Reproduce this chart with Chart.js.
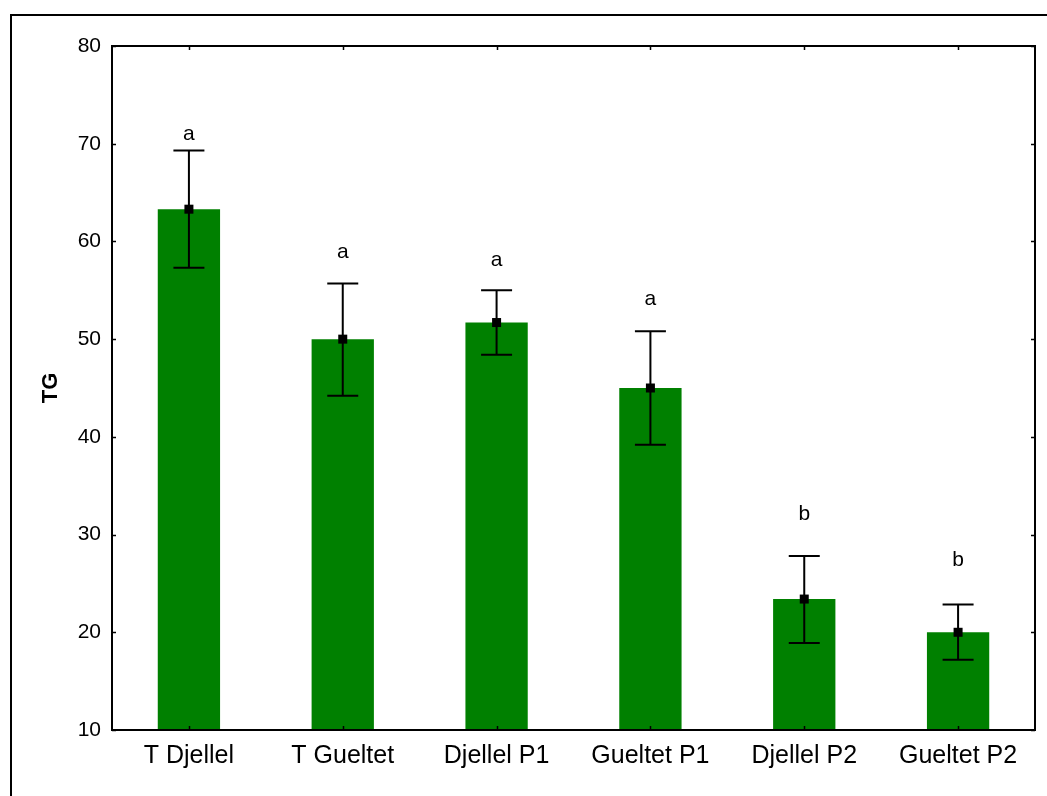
<!DOCTYPE html>
<html>
<head>
<meta charset="utf-8">
<script src="https://cdn.jsdelivr.net/npm/chart.js@4/dist/chart.umd.min.js"></script>
<style>
html,body{margin:0;padding:0;background:#fff;}
#c{display:block;}
</style>
</head>
<body>
<canvas id="c" width="1047" height="796"></canvas>
<script>
const categories = ['T Djellel', 'T Gueltet', 'Djellel P1', 'Gueltet P1', 'Djellel P2', 'Gueltet P2'];
const means = [63.3, 50.0, 51.7, 45.0, 23.4, 20.0];
const errLow = [57.3, 44.2, 48.4, 39.2, 18.9, 17.2];
const errHigh = [69.3, 55.7, 55.0, 50.8, 27.8, 22.85];
const groupLetters = ['a', 'a', 'a', 'a', 'b', 'b'];
const letterY = [70.4, 58.3, 57.5, 53.5, 31.5, 26.8];
const yTicks = [10, 20, 30, 40, 50, 60, 70, 80];

const FONT = "'Liberation Sans', Arial, sans-serif";

const decorPlugin = {
  id: 'decor',
  beforeDraw(chart) {
    const ctx = chart.ctx;
    ctx.save();
    ctx.fillStyle = '#fff';
    ctx.fillRect(0, 0, chart.width, chart.height);
    ctx.strokeStyle = '#000';
    ctx.lineWidth = 2;
    ctx.strokeRect(11, 15, chart.width + 20, chart.height + 20);
    ctx.restore();
  },
  afterDatasetsDraw(chart) {
    const ctx = chart.ctx;
    const x = chart.scales.x, y = chart.scales.y;
    const a = chart.chartArea;
    ctx.save();
    // error bars
    ctx.strokeStyle = '#000';
    ctx.lineWidth = 2;
    for (let i = 0; i < categories.length; i++) {
      const px = x.getPixelForValue(i);
      const yl = y.getPixelForValue(errLow[i]);
      const yh = y.getPixelForValue(errHigh[i]);
      ctx.beginPath();
      ctx.moveTo(px, yl); ctx.lineTo(px, yh);
      ctx.moveTo(px - 15.5, yl); ctx.lineTo(px + 15.5, yl);
      ctx.moveTo(px - 15.5, yh); ctx.lineTo(px + 15.5, yh);
      ctx.stroke();
      ctx.fillStyle = '#000';
      ctx.fillRect(px - 4.5, y.getPixelForValue(means[i]) - 4.5, 9, 9);
    }
    // letters
    ctx.fillStyle = '#000';
    ctx.font = '21px ' + FONT;
    ctx.textAlign = 'center';
    ctx.textBaseline = 'alphabetic';
    for (let i = 0; i < categories.length; i++) {
      ctx.fillText(groupLetters[i], x.getPixelForValue(i), y.getPixelForValue(letterY[i]));
    }
    // frame
    ctx.lineWidth = 2;
    ctx.strokeRect(a.left, a.top, a.right - a.left, a.bottom - a.top);
    // ticks inside
    ctx.lineWidth = 1.5;
    ctx.beginPath();
    for (const v of yTicks) {
      const py = Math.round(y.getPixelForValue(v)) + 0.5;
      ctx.moveTo(a.left, py); ctx.lineTo(a.left + 4, py);
      ctx.moveTo(a.right, py); ctx.lineTo(a.right - 4, py);
    }
    for (let i = 0; i < categories.length; i++) {
      const px = Math.round(x.getPixelForValue(i)) + 0.5;
      ctx.moveTo(px, a.bottom); ctx.lineTo(px, a.bottom - 4);
      ctx.moveTo(px, a.top); ctx.lineTo(px, a.top + 4);
    }
    ctx.stroke();
    ctx.restore();
  }
};

new Chart(document.getElementById('c'), {
  type: 'bar',
  data: {
    labels: categories,
    datasets: [{
      data: means,
      backgroundColor: '#008000',
      borderWidth: 0,
      barPercentage: 0.405,
      categoryPercentage: 1.0
    }]
  },
  options: {
    responsive: false,
    animation: false,
    devicePixelRatio: 1,
    layout: { padding: { left: 0, top: 46, right: 12, bottom: 0 } },
    plugins: { legend: { display: false }, tooltip: { enabled: false } },
    scales: {
      x: {
        grid: { display: false, drawTicks: false },
        border: { display: false },
        ticks: { color: '#000', font: { family: FONT, size: 25 }, padding: 11, maxRotation: 0, autoSkip: false },
        afterFit(s) { s.height = 66; }
      },
      y: {
        min: 10, max: 80,
        afterBuildTicks(s) { s.ticks = yTicks.map(v => ({ value: v })); },
        grid: { display: false, drawTicks: false },
        border: { display: false },
        ticks: { color: '#000', font: { family: FONT, size: 21 }, padding: 11 },
        title: { display: true, text: 'TG', color: '#000', font: { family: FONT, size: 22, weight: 'bold' }, padding: { top: 38, bottom: 0 } },
        afterFit(s) { s.width = 112; }
      }
    }
  },
  plugins: [decorPlugin]
});
</script>
</body>
</html>
